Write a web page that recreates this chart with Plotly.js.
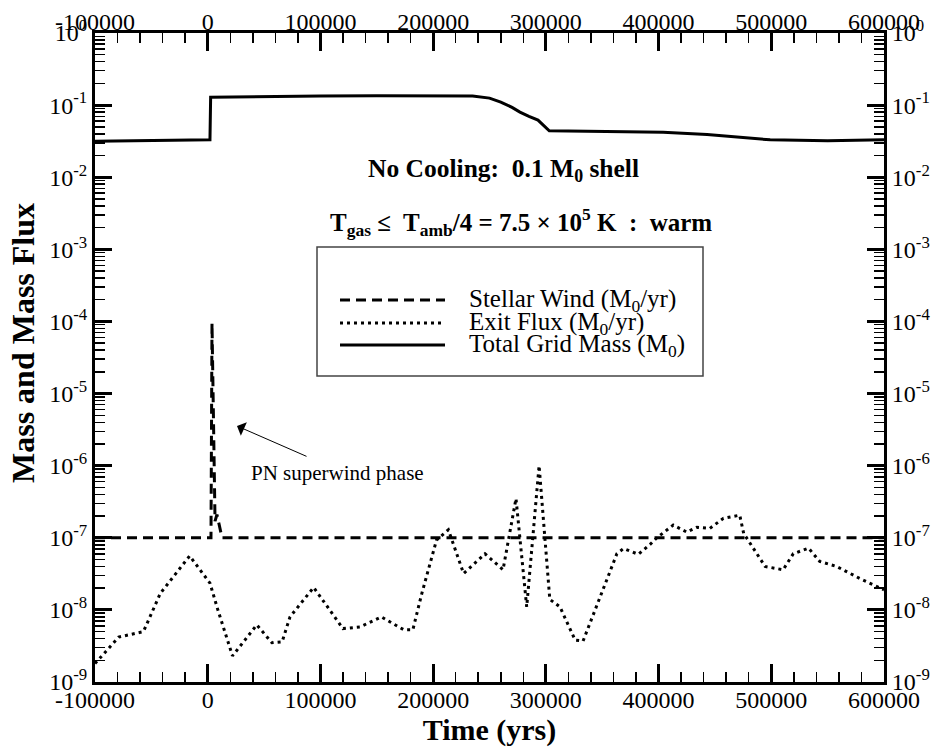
<!DOCTYPE html>
<html>
<head>
<meta charset="utf-8">
<script src="https://cdn.plot.ly/plotly-3.0.1.min.js"></script>
<style>html,body{margin:0;padding:0;background:#fff;}#chart{width:936px;height:748px;}</style>
</head>
<body>
<div id="chart"></div>
<script>
// ---- Data ----
const windTime = [-100000, 2900, 3800, 6500, 8200, 12700, 600000];
const windFlux = [1e-7, 1e-7, 9.5e-5, 1.7e-7, 2.1e-7, 1e-7, 1e-7];

const exitTime = [-100000, -79000, -57000, -42000, -16000, 2000, 9000, 22000, 43500, 57000,
  66000, 73000, 94000, 120000, 135000, 154000, 174000, 182000, 190000, 203000,
  213500, 227000, 246000, 262000, 273500, 283000, 294000, 303500, 312500, 326000,
  333000, 363000, 369000, 382000, 392500, 398500, 413000, 425000, 434000, 445500,
  457500, 472000, 475500, 494500, 510500, 519500, 533000, 543000, 558000, 579000, 600000];
const exitFlux = [1.8e-9, 4.2e-9, 5.0e-9, 1.7e-8, 5.6e-8, 2.35e-8, 1.0e-8, 2.3e-9, 6.2e-9, 3.5e-9,
  3.6e-9, 8.0e-9, 2.05e-8, 5.5e-9, 5.8e-9, 8.0e-9, 5.3e-9, 5.3e-9, 1.7e-8, 9.3e-8,
  1.29e-7, 3.2e-8, 6.0e-8, 3.6e-8, 3.5e-7, 1.1e-8, 1.0e-6, 1.4e-8, 1.1e-8, 3.8e-9,
  3.7e-9, 6.0e-8, 7.1e-8, 5.9e-8, 8.1e-8, 1.0e-7, 1.5e-7, 1.2e-7, 1.4e-7, 1.35e-7,
  1.86e-7, 2.06e-7, 1.15e-7, 4.0e-8, 3.6e-8, 6.0e-8, 7.2e-8, 4.7e-8, 4.0e-8, 2.7e-8, 1.9e-8];

const massTime = [-100000, -50000, 2000, 2600, 50000, 100000, 150000, 200000, 235000, 250000,
  260000, 270000, 277000, 285000, 293000, 303000, 350000, 404000, 443000, 470000,
  499000, 550000, 600000];
const gridMass = [0.0315, 0.032, 0.033, 0.129, 0.132, 0.134, 0.135, 0.136, 0.134, 0.125,
  0.11, 0.093, 0.08, 0.07, 0.062, 0.044, 0.043, 0.042, 0.039, 0.036,
  0.033, 0.032, 0.033];

const seriesNames = ['Stellar Wind (M<sub>0</sub>/yr)', 'Exit Flux (M<sub>0</sub>/yr)', 'Total Grid Mass (M<sub>0</sub>)'];

const xTickVals = [-100000, 0, 100000, 200000, 300000, 400000, 500000, 600000];
const xTickText = ['-100000', '0', '100000', '200000', '300000', '400000', '500000', '600000'];
const yExponents = [-9, -8, -7, -6, -5, -4, -3, -2, -1, 0];

// ---- Derived tick arrays ----
const yTickVals = yExponents.map(e => Math.pow(10, e));
const yTickText = yExponents.map(e => '10<sup>' + e + '</sup>');
const yMinor = [];
yExponents.slice(0, -1).forEach(e => { for (let m = 2; m <= 9; m++) yMinor.push(m * Math.pow(10, e)); });
const xMinor = [];
for (let v = -100000; v <= 600000; v += 20000) xMinor.push(v);

const FONT = '"Liberation Serif", "Times New Roman", Times, serif';
const L = 95, R = 884, T = 33, B = 682;
const px = x => (x - L) / (R - L);
const py = y => (B - y) / (B - T);

function xAxis(extra) {
  return Object.assign({
    type: 'linear', range: [-100000, 600000],
    tickmode: 'array', tickvals: xTickVals, ticktext: xTickText,
    ticks: 'inside', ticklen: 18, tickwidth: 3, tickcolor: '#000',
    showline: true, linewidth: 3, linecolor: '#000',
    showgrid: false, zeroline: false,
    ticklabelstandoff: -10,
    tickfont: {family: FONT, size: 24, color: '#000'},
    minor: {tickmode: 'array', tickvals: xMinor, ticks: 'inside', ticklen: 10, tickwidth: 1.5, tickcolor: '#000', showgrid: false}
  }, extra);
}
function yAxis(extra) {
  return Object.assign({
    type: 'log', range: [-9, 0],
    tickmode: 'array', tickvals: yTickVals, ticktext: yTickText,
    ticks: 'inside', ticklen: 17, tickwidth: 3, tickcolor: '#000',
    showline: true, linewidth: 3, linecolor: '#000',
    showgrid: false, zeroline: false,
    tickfont: {family: FONT, size: 24, color: '#000'},
    minor: {tickmode: 'array', tickvals: yMinor, ticks: 'inside', ticklen: 10, tickwidth: 1.5, tickcolor: '#000', showgrid: false}
  }, extra);
}

const traces = [
  {x: windTime, y: windFlux, mode: 'lines', name: seriesNames[0], line: {color: '#000', width: 3, dash: '10px,6px'}, hoverinfo: 'skip'},
  {x: exitTime, y: exitFlux, mode: 'lines', name: seriesNames[1], line: {color: '#000', width: 3, dash: '3px,4px'}, hoverinfo: 'skip'},
  {x: massTime, y: gridMass, mode: 'lines', name: seriesNames[2], line: {color: '#000', width: 3}, hoverinfo: 'skip'},
  {x: [null], y: [null], xaxis: 'x2', yaxis: 'y2', mode: 'lines', showlegend: false, hoverinfo: 'skip'}
];

// custom legend (long sample lines like the reference)
const legRows = [300, 323, 345];
const legDash = ['10px,6px', '3px,4px', 'solid'];
const shapes = [
  {type: 'rect', xref: 'paper', yref: 'paper', x0: px(317), x1: px(703), y0: py(376), y1: py(247), line: {color: '#444', width: 1.5}, fillcolor: 'rgba(0,0,0,0)'}
];
const annotations = [];
legRows.forEach((r, i) => {
  shapes.push({type: 'line', xref: 'paper', yref: 'paper', x0: px(340), x1: px(445), y0: py(r), y1: py(r), line: {color: '#000', width: 3, dash: legDash[i]}});
  annotations.push({xref: 'paper', yref: 'paper', x: px(467), y: py(r), xanchor: 'left', yanchor: 'middle', showarrow: false, text: seriesNames[i], font: {family: FONT, size: 25, color: '#000'}});
});

annotations.push(
  {xref: 'paper', yref: 'paper', x: px(503), y: py(170), xanchor: 'center', yanchor: 'middle', showarrow: false,
   text: '<b>No Cooling:\u00a0 0.1 M<sub>0</sub> shell</b>', font: {family: FONT, size: 25.5, color: '#000'}},
  {xref: 'paper', yref: 'paper', x: px(521), y: py(222), xanchor: 'center', yanchor: 'middle', showarrow: false,
   text: '<b>T<sub>gas</sub> \u2264\u00a0 T<sub>amb</sub>/4 = 7.5 \u00d7 10<sup>5</sup> K\u00a0 :\u00a0 warm</b>', font: {family: FONT, size: 25, color: '#000'}},
  {xref: 'paper', yref: 'paper', x: px(337), y: py(473), xanchor: 'center', yanchor: 'middle', showarrow: false,
   text: 'PN superwind phase', font: {family: FONT, size: 21, color: '#000'}},
  {xref: 'paper', yref: 'paper', x: px(237), y: py(426), text: '', showarrow: true, arrowhead: 1, arrowsize: 2.5, arrowwidth: 1, arrowcolor: '#000',
   ax: 71, ay: 31, standoff: 0},
  // y-axis title (placed as in the reference, slightly above the plot centre)
  {xref: 'paper', yref: 'paper', x: px(23), y: py(343), xanchor: 'center', yanchor: 'middle', showarrow: false, textangle: -90,
   text: '<b>Mass and Mass Flux</b>', font: {family: FONT, size: 32, color: '#000'}}
);

const layout = {
  width: 936, height: 748,
  margin: {l: L, r: 936 - R, t: T, b: 748 - B, pad: 0},
  paper_bgcolor: '#fff', plot_bgcolor: '#fff',
  showlegend: false,
  font: {family: FONT, color: '#000'},
  xaxis: xAxis({title: {text: '<b>Time (yrs)</b>', font: {family: FONT, size: 30, color: '#000'}, standoff: 0}, anchor: 'y', ticklabelstandoff: -6}),
  xaxis2: xAxis({overlaying: 'x', side: 'top', anchor: 'y'}),
  yaxis: yAxis({anchor: 'x'}),
  yaxis2: yAxis({overlaying: 'y', side: 'right', anchor: 'x'}),
  shapes: shapes,
  annotations: annotations
};

Plotly.newPlot('chart', traces, layout, {staticPlot: true, displayModeBar: false});
</script>
</body>
</html>
